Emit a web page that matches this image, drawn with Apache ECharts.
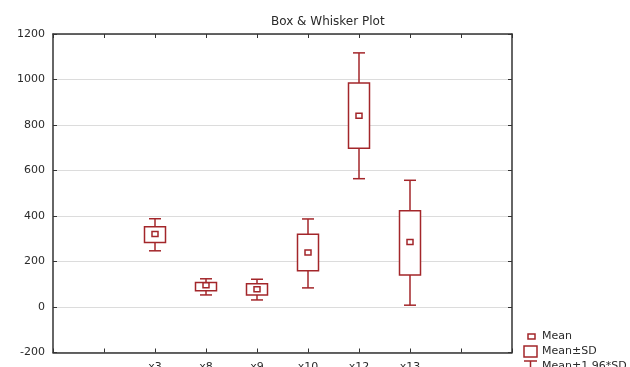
<!DOCTYPE html>
<html><head><meta charset="utf-8">
<script src="https://cdn.jsdelivr.net/npm/echarts@6/dist/echarts.min.js"></script>
<style>html,body{margin:0;padding:0;background:#fff}#c{width:630px;height:367px}</style>
</head><body><div id="c"></div>
<script>
var title = 'Box & Whisker Plot';
var categories = ['x3', 'x8', 'x9', 'x10', 'x12', 'x13'];
var catPositions = [2, 3, 4, 5, 6, 7];
var xTickLabels = ['', '', 'x3', 'x8', 'x9', 'x10', 'x12', 'x13', '', ''];
var means = [321, 96, 78, 240, 841, 286];
var sdLow = [283, 71, 53, 159, 698, 141];
var sdHigh = [353, 108, 102, 320, 985, 423];
var ciLow = [247, 53, 31, 84, 564, 8];
var ciHigh = [388, 124, 122, 387, 1117, 557];
var legendLabels = ['Mean', 'Mean\u00b1SD', 'Mean\u00b11.96*SD'];

var COL = '#a3262a';
var FONT = 'DejaVu Sans, sans-serif';
var data = categories.map(function (c, i) {
  return [catPositions[i], means[i], sdLow[i], sdHigh[i], ciLow[i], ciHigh[i]];
});

var chart = echarts.init(document.getElementById('c'));
var axisFont = { fontFamily: FONT, fontSize: 11, color: '#2a2a2a' };
var frameLine = { onZero: false, lineStyle: { color: '#333', width: 1.5 } };
var frameTick = { inside: true, length: 4, lineStyle: { color: '#333' } };
chart.setOption({
  animation: false,
  title: { text: title, left: 266, top: 11, textStyle: { fontFamily: FONT, fontSize: 12, fontWeight: 'normal', color: '#2a2a2a' } },
  grid: { left: 53, right: 118, top: 34, bottom: 14.5, containLabel: false, outerBoundsMode: 'none' },
  xAxis: [{
    type: 'value', min: 0, max: 9, interval: 1, position: 'bottom',
    axisLine: frameLine, axisTick: frameTick,
    splitLine: { show: false },
    axisLabel: Object.assign({ margin: 9, formatter: function (v) { return xTickLabels[v] || ''; } }, axisFont)
  }, {
    type: 'value', min: 0, max: 9, interval: 1, position: 'top',
    axisLine: frameLine, axisTick: frameTick,
    splitLine: { show: false }, axisLabel: { show: false }
  }],
  yAxis: [{
    type: 'value', min: -200, max: 1200, interval: 200, position: 'left',
    axisLine: frameLine, axisTick: frameTick,
    splitLine: { show: true, lineStyle: { color: '#dcdcdc', width: 1 } },
    axisLabel: Object.assign({ margin: 8, formatter: function (v) { return String(v); } }, axisFont)
  }, {
    type: 'value', min: -200, max: 1200, interval: 200, position: 'right',
    axisLine: frameLine, axisTick: frameTick,
    splitLine: { show: false }, axisLabel: { show: false }
  }],
  series: [{
    type: 'custom',
    xAxisIndex: 0, yAxisIndex: 0,
    data: data,
    renderItem: function (params, api) {
      var x = api.coord([api.value(0), 0])[0];
      var m = api.coord([0, api.value(1)])[1];
      var sl = api.coord([0, api.value(2)])[1];
      var sh = api.coord([0, api.value(3)])[1];
      var cl = api.coord([0, api.value(4)])[1];
      var ch = api.coord([0, api.value(5)])[1];
      var bw = 21, cw = 12;
      var ls = { stroke: COL, lineWidth: 1.5, fill: null };
      return {
        type: 'group', children: [
          { type: 'line', shape: { x1: x, y1: ch, x2: x, y2: sh }, style: ls },
          { type: 'line', shape: { x1: x, y1: sl, x2: x, y2: cl }, style: ls },
          { type: 'line', shape: { x1: x - cw / 2, y1: ch, x2: x + cw / 2, y2: ch }, style: ls },
          { type: 'line', shape: { x1: x - cw / 2, y1: cl, x2: x + cw / 2, y2: cl }, style: ls },
          { type: 'rect', shape: { x: x - bw / 2, y: sh, width: bw, height: sl - sh }, style: { stroke: COL, lineWidth: 1.5, fill: '#fff' } },
          { type: 'rect', shape: { x: x - 3, y: m - 2.5, width: 6, height: 5 }, style: { stroke: COL, lineWidth: 1.5, fill: '#fff' } }
        ]
      };
    }
  }],
  graphic: [
    { type: 'rect', shape: { x: 528, y: 334, width: 7, height: 5 }, style: { stroke: COL, lineWidth: 1.5, fill: '#fff' } },
    { type: 'text', x: 542, y: 336, style: { text: legendLabels[0], fontFamily: FONT, fontSize: 11, fill: '#2a2a2a', verticalAlign: 'middle' } },
    { type: 'rect', shape: { x: 524, y: 346, width: 13, height: 11 }, style: { stroke: COL, lineWidth: 1.5, fill: '#fff' } },
    { type: 'text', x: 542, y: 351, style: { text: legendLabels[1], fontFamily: FONT, fontSize: 11, fill: '#2a2a2a', verticalAlign: 'middle' } },
    { type: 'line', shape: { x1: 524, y1: 361, x2: 537, y2: 361 }, style: { stroke: COL, lineWidth: 1.5 } },
    { type: 'line', shape: { x1: 530.5, y1: 361, x2: 530.5, y2: 370 }, style: { stroke: COL, lineWidth: 1.5 } },
    { type: 'text', x: 542, y: 366, style: { text: legendLabels[2], fontFamily: FONT, fontSize: 11, fill: '#2a2a2a', verticalAlign: 'middle' } }
  ]
});
</script></body></html>
